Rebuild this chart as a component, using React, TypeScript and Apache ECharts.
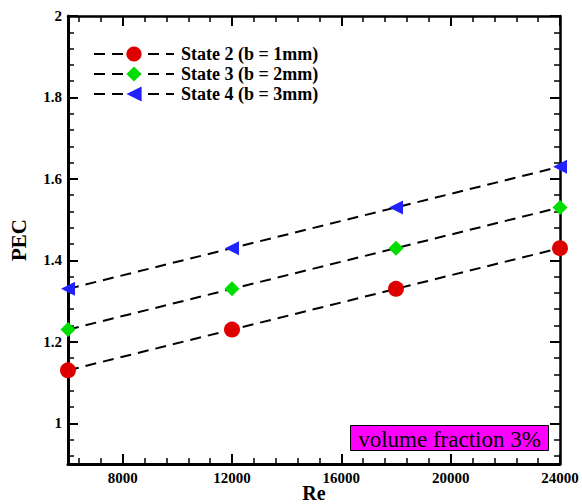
import React, { useEffect, useRef } from "react";
import * as echarts from "echarts";

const reValues = [6000, 12000, 18000, 24000];
const state2 = [1.13, 1.23, 1.33, 1.43];
const state3 = [1.23, 1.33, 1.43, 1.53];
const state4 = [1.33, 1.43, 1.53, 1.63];
const seriesNames = ["State 2 (b = 1mm)", "State 3 (b = 2mm)", "State 4 (b = 3mm)"];
const xMajorTicks = [8000, 12000, 16000, 20000, 24000];
const xMinorTicks = [6400, 7200, 8800, 9600, 10400, 11200, 12800, 13600, 14400, 15200, 16800, 17600, 18400, 19200, 20800, 21600, 22400, 23200];
const yMajorTicks = [1, 1.2, 1.4, 1.6, 1.8, 2];
const yMinorTicks = [0.92, 0.96, 1.04, 1.08, 1.12, 1.16, 1.24, 1.28, 1.32, 1.36, 1.44, 1.48, 1.52, 1.56, 1.64, 1.68, 1.72, 1.76, 1.84, 1.88, 1.92, 1.96];
const annotation = "volume fraction 3%";

const FONT = "Times New Roman, Liberation Serif, serif";
const X_MIN = 6000, X_MAX = 24000, Y_MIN = 0.9, Y_MAX = 2;

function xAxisDef(position: "top" | "bottom", ticks: number[], len: number, main: boolean, line: boolean, lineW: number) {
  return {
    type: "value", position, min: X_MIN, max: X_MAX,
    name: main ? "Re" : "", nameLocation: "middle", nameGap: 19, nameMoveOverlap: false,
    nameTextStyle: { fontFamily: FONT, fontSize: 20, fontWeight: "bold", color: "#000", verticalAlign: "top" },
    axisLine: { show: line, onZero: false, lineStyle: { color: "#000", width: lineW } },
    axisTick: { show: true, inside: true, length: len, customValues: ticks, lineStyle: { color: "#000", width: len > 8 ? 2 : 1.5 } },
    axisLabel: main ? { show: true, customValues: xMajorTicks, margin: 6, fontFamily: FONT, fontSize: 15, fontWeight: "bold", color: "#000", formatter: (v: number) => String(v) } : { show: false },
    splitLine: { show: false },
  };
}
function yAxisDef(position: "left" | "right", ticks: number[], len: number, main: boolean, line: boolean, lineW: number) {
  return {
    type: "value", position, min: Y_MIN, max: Y_MAX,
    name: main ? "PEC" : "", nameLocation: "middle", nameGap: 39, nameMoveOverlap: false,
    nameTextStyle: { fontFamily: FONT, fontSize: 21, fontWeight: "bold", color: "#000" },
    axisLine: { show: line, onZero: false, lineStyle: { color: "#000", width: lineW } },
    axisTick: { show: true, inside: true, length: len, customValues: ticks, lineStyle: { color: "#000", width: len > 8 ? 2 : 1.5 } },
    axisLabel: main ? { show: true, customValues: yMajorTicks, margin: 6, fontFamily: FONT, fontSize: 15, fontWeight: "bold", color: "#000", formatter: (v: number) => String(Math.round(v * 10) / 10) } : { show: false },
    splitLine: { show: false },
  };
}

export default function App() {
  const ref = useRef<HTMLDivElement>(null);
  useEffect(() => {
    if (!ref.current) return;
    const chart = echarts.init(ref.current, undefined, { renderer: "svg" });
    const mk = (name: string, vals: number[], symbol: string, size: number, color: string, rot = 0) => ({
      name, type: "line", xAxisIndex: 0, yAxisIndex: 0,
      data: reValues.map((x, i) => [x, vals[i]]),
      symbol, symbolSize: size, symbolRotate: rot, showSymbol: true, clip: false,
      lineStyle: { color: "#000", width: 2, type: [11, 7] },
      itemStyle: { color, borderWidth: 0 },
      z: 3,
    });
    chart.setOption({
      animation: false,
      backgroundColor: "#fff",
      textStyle: { fontFamily: FONT },
      grid: { left: 68, right: 22, top: 16, bottom: 40, containLabel: false, outerBoundsMode: "none" },
      legend: {
        left: 88, top: 40, orient: "vertical", itemWidth: 80, itemHeight: 19, itemGap: 2,
        textStyle: { fontFamily: FONT, fontSize: 18, fontWeight: "bold", color: "#000", padding: [0, 0, 0, 2] },
        data: seriesNames,
      },
      xAxis: [
        xAxisDef("bottom", xMajorTicks, 10, true, true, 3),
        xAxisDef("bottom", xMinorTicks, 6, false, false, 0),
        xAxisDef("top", xMajorTicks, 10, false, true, 2.5),
        xAxisDef("top", xMinorTicks, 6, false, false, 0),
      ],
      yAxis: [
        yAxisDef("left", yMajorTicks, 10, true, true, 3),
        yAxisDef("left", yMinorTicks, 6, false, false, 0),
        yAxisDef("right", yMajorTicks, 10, false, true, 2.5),
        yAxisDef("right", yMinorTicks, 6, false, false, 0),
      ],
      series: [
        mk(seriesNames[0], state2, "circle", 16, "#dd0000"),
        mk(seriesNames[1], state3, "diamond", 15, "#00dd00"),
        mk(seriesNames[2], state4, "triangle", 14, "#2222ff", 90),
      ],
      graphic: [
        {
          type: "group", left: 350, top: 425, z: 10,
          children: [
            { type: "rect", shape: { x: 0, y: 0, width: 198, height: 25 }, style: { fill: "#ff00ff", stroke: "#000", lineWidth: 1 } },
            { type: "text", x: 99, y: 14, style: { text: annotation, fontFamily: FONT, fontSize: 23, fill: "#000", align: "center", verticalAlign: "middle" } },
          ],
        },
      ],
    });
    return () => chart.dispose();
  }, []);
  return <div ref={ref} style={{ width: 582, height: 504, position: "absolute", left: 0, top: 0 }} />;
}
